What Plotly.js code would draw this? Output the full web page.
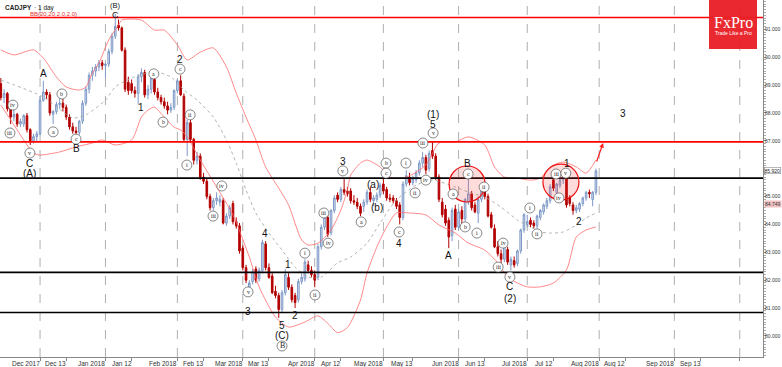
<!DOCTYPE html>
<html><head><meta charset="utf-8">
<script src="https://cdn.plot.ly/plotly-3.0.1.min.js"></script>
<style>html,body{margin:0;padding:0;background:#fff;}#chart{width:782px;height:367px;}</style>
</head><body><div id="chart"></div>
<script>
// ---- candle data (bar index 0 = 15 Nov 2017) ----
const opens = [
89.05,88.55,88.70,88.15,87.85,87.95,87.60,87.60,87.90,87.40,
87.00,87.15,87.25,88.45,88.75,88.65,87.95,88.05,88.30,88.35,
88.20,87.85,87.50,87.35,87.30,87.70,88.35,88.85,89.35,89.50,
89.65,89.80,89.70,89.75,90.20,90.75,91.15,91.05,90.25,89.10,
89.05,88.80,88.70,89.30,89.45,88.65,88.85,89.20,88.75,88.55,
88.40,88.25,88.10,88.20,88.80,89.15,88.60,87.05,87.65,87.05,
86.30,86.45,85.70,85.55,85.00,84.60,84.85,84.80,84.85,84.05,
84.30,84.75,84.10,83.95,83.15,82.45,81.75,81.95,82.40,82.05,
82.35,83.30,82.45,82.15,81.60,81.45,80.95,81.55,82.10,81.75,
81.45,81.30,81.95,82.05,82.55,82.35,82.20,82.10,83.20,83.90,
84.25,83.70,84.50,85.05,84.90,85.25,85.20,85.20,84.85,84.80,
84.65,84.65,84.80,85.15,84.85,84.90,85.05,85.45,85.25,84.95,
84.95,84.85,84.70,84.25,85.45,85.70,85.50,85.60,85.85,86.20,
86.40,86.00,86.65,86.45,85.70,84.80,84.55,84.15,83.60,84.55,
83.90,84.50,84.20,84.80,85.10,84.70,84.40,84.90,85.20,85.00,
84.35,83.85,83.20,82.95,82.75,83.10,82.55,82.70,82.60,83.05,
83.80,84.00,84.15,84.05,83.95,84.25,84.45,84.65,84.85,85.60,
85.15,85.40,85.60,85.70,84.95,84.70,84.50,84.55,84.75,84.95,
85.15,84.90,85.15];
const highs = [
89.25,88.85,88.75,88.30,88.10,88.00,87.80,87.95,88.00,87.45,
87.25,87.35,88.60,89.15,88.85,88.75,88.10,88.40,88.55,88.50,
88.30,87.95,87.65,87.50,87.75,88.45,88.95,89.45,89.65,89.75,
89.90,89.90,89.80,90.30,90.85,91.55,91.35,91.10,90.35,89.30,
89.20,88.95,89.40,89.60,89.55,89.00,89.35,89.40,88.90,88.65,
88.55,88.40,88.35,88.85,89.20,89.35,88.70,87.75,87.75,87.10,
86.60,86.55,85.85,85.65,85.10,84.95,85.15,85.05,84.95,84.40,
84.70,84.85,84.25,84.05,83.25,82.55,82.00,82.40,82.50,82.45,
83.45,83.40,82.60,82.25,81.80,81.55,81.65,82.40,82.25,81.85,
81.55,82.05,82.25,82.75,82.70,82.50,82.35,83.30,84.00,84.35,
84.35,84.55,85.05,85.15,85.35,85.65,85.35,85.30,85.05,84.95,
84.75,84.90,85.25,85.35,85.05,85.15,85.50,85.65,85.35,85.10,
85.05,84.95,84.80,85.55,85.95,85.85,85.75,85.95,86.30,86.60,
86.50,86.65,86.95,86.55,85.80,84.95,84.70,84.25,84.60,84.70,
84.55,84.65,84.95,85.70,85.20,84.80,85.00,85.30,85.45,85.10,
84.45,84.00,83.40,83.10,83.35,83.20,82.85,82.85,83.10,83.85,
84.40,84.35,84.25,84.15,84.35,84.55,84.75,84.95,85.45,85.70,
85.50,85.65,85.95,85.80,85.05,84.80,84.70,84.80,85.00,85.20,
85.25,85.20,86.00];
const lows = [
88.45,88.35,88.05,87.60,87.70,87.50,87.50,87.50,87.30,86.85,
86.90,86.95,87.20,88.40,88.50,87.90,87.60,87.95,88.15,88.05,
87.75,87.40,87.25,87.10,87.20,87.60,88.25,88.70,89.15,89.30,
89.50,89.55,89.25,89.65,90.10,90.65,90.95,90.20,88.75,88.65,
88.70,88.55,88.30,89.10,88.55,88.50,88.70,88.65,88.45,88.30,
88.15,87.95,88.00,88.10,88.70,88.60,86.95,86.45,86.95,86.15,
86.15,85.60,85.45,84.90,84.50,84.50,84.70,84.65,84.00,83.95,
84.20,84.00,83.85,82.95,82.35,81.90,81.55,81.85,81.90,81.95,
82.25,82.35,82.05,81.50,81.35,80.65,80.85,81.45,81.65,81.20,
81.00,81.20,81.85,81.95,82.25,82.10,81.75,82.00,83.10,83.80,
83.55,83.60,84.40,84.80,84.80,85.05,85.00,84.75,84.70,84.55,
84.30,84.45,84.70,84.80,84.65,84.80,84.95,85.10,84.85,84.80,
84.75,84.55,84.00,84.15,85.35,85.40,85.40,85.50,85.75,86.05,
85.80,85.90,86.35,85.60,84.80,84.25,83.95,83.15,83.40,83.80,
83.80,83.95,84.10,84.70,84.50,84.40,84.05,84.80,84.90,84.25,
83.85,83.15,82.85,82.60,82.65,82.55,82.35,82.45,82.50,82.95,
83.70,83.90,83.90,83.85,83.85,84.15,84.35,84.55,84.75,85.20,
85.05,85.30,85.45,84.60,84.65,84.35,84.40,84.45,84.65,84.85,
84.95,84.65,85.05];
const closes = [
88.55,88.70,88.15,87.85,87.95,87.60,87.70,87.90,87.40,87.00,
87.15,87.25,88.45,88.75,88.65,88.00,88.05,88.30,88.35,88.20,
87.85,87.50,87.35,87.30,87.70,88.35,88.85,89.35,89.50,89.65,
89.80,89.70,89.75,90.20,90.75,91.10,91.05,90.25,88.85,88.80,
88.80,88.70,89.30,89.45,88.65,88.85,89.25,88.75,88.55,88.40,
88.25,88.10,88.20,88.80,89.15,88.65,87.05,87.65,87.05,86.30,
86.45,85.70,85.55,85.00,84.60,84.85,84.95,84.90,84.05,84.30,
84.60,84.10,83.95,83.05,82.45,82.00,81.90,82.30,82.00,82.35,
83.35,82.45,82.10,81.55,81.45,80.95,81.55,82.20,81.75,81.30,
81.20,81.95,82.10,82.65,82.35,82.20,82.00,83.20,83.90,84.25,
83.65,84.50,84.95,84.90,85.25,85.15,85.10,84.85,84.80,84.65,
84.40,84.80,85.15,84.90,84.95,85.05,85.40,85.20,84.95,84.90,
84.85,84.65,84.25,85.45,85.75,85.50,85.65,85.85,86.20,86.40,
85.95,86.55,86.45,85.70,84.90,84.35,84.05,83.55,84.50,83.90,
84.45,84.20,84.90,85.10,84.60,84.45,84.90,85.20,85.00,84.30,
83.90,83.20,82.95,82.75,83.30,82.65,82.75,82.55,83.05,83.80,
84.35,84.10,84.00,83.95,84.30,84.50,84.70,84.85,85.35,85.30,
85.45,85.60,85.70,84.70,84.75,84.50,84.60,84.75,84.95,85.15,
85.10,85.15,85.92];

// ---- Bollinger band readings (bar index, price) ----
const upperIdx = [0,4,10,13,17,20,24,26,28,30,33,36,37,43,47,50,54,57,61,65,69,72,75,78,81,85,88,92,94,97,101,104,106,107,110,112,116,119,124,130,134,139,143,148,151,154,158,162,165,168,172,176,179,182];
const upperVal = [90.26,90.08,90.26,89.97,89.29,88.93,88.82,88.93,89.43,89.79,90.62,91.15,91.33,91.33,90.97,90.97,90.44,89.90,90.18,90.33,89.65,88.71,87.85,87.03,86.06,85.30,84.70,83.44,83.26,83.33,83.80,84.52,85.24,85.77,86.20,86.31,86.06,85.70,85.70,86.13,86.92,86.96,87.14,86.85,86.06,85.70,85.66,85.59,85.66,86.06,86.24,86.06,85.84,86.31];
const lowerIdx = [0,4,7,10,12,18,23,28,31,35,40,43,45,47,49,53,55,57,61,66,71,76,79,84,88,93,97,100,103,106,110,112,115,118,121,125,130,134,139,143,148,152,155,158,161,165,169,173,176,179,182];
const lowerVal = [88.28,87.57,87.03,86.56,86.49,86.60,86.78,86.92,87.03,86.85,87.03,87.85,88.10,88.21,87.98,87.49,87.39,87.14,86.31,85.34,84.34,82.83,81.76,80.68,80.32,80.50,80.72,80.45,80.12,80.30,81.29,82.26,83.19,83.91,84.41,84.41,84.34,83.98,83.69,83.33,83.08,82.62,82.11,81.90,81.76,81.76,81.90,82.37,83.55,83.80,83.91];
const midIdx = [0,13,22,26,32,35,40,47,52,56,60,65,69,72,75,78,82,86,90,94,98,103,107,112,116,121,127,132,139,143,148,153,158,162,165,168,172,176,179,182];
const midVal = [89.18,88.57,87.82,87.93,88.46,88.93,89.25,89.47,89.29,88.82,88.46,87.85,87.03,86.20,85.24,84.41,83.69,83.08,82.47,82.11,82.11,82.62,82.83,83.33,84.05,84.88,85.41,85.59,85.34,85.16,84.98,84.62,84.16,83.91,83.73,83.69,83.73,83.98,84.23,84.41];

// ---- horizontal levels ----
const redLevels = [91.42, 86.96];
const blackLevels = [85.66, 82.28, 80.84];

// ---- axes ----
const monthIdx = [12,32,54,74,96,117,140,161,183,206,226];
const tickIdx = [12,20,32,40,54,62,74,82,96,104,117,126,140,148,161,169,183,191,206,214,226];
const tickText = ["Dec 2017","Dec 13","Jan 2018","Jan 12","Feb 2018","Feb 13","Mar 2018","Mar 13","Apr 2018","Apr 12","May 2018","May 13","Jun 2018","Jun 13","Jul 2018","Jul 12","Aug 2018","Aug 12","Sep 2018","Sep 13",""];
const yTicks = [80,81,82,83,84,85,87,88,89,90,91];
const yTickText = ["80.000","81.000","82.000","83.000","84.000","85.000","87.000","88.000","89.000","90.000","91.000"];

// ---- wave labels ----
const plainLbl = [["C",35.2,91.53],["A",12.9,89.40],["B",23.0,86.71],["C",8.9,86.20],["(A)",8.9,85.81],["1",42.9,88.18],["2",54.8,89.93],["3",75.6,80.86],["4",80.8,83.69],["5",86.0,80.36],["(C)",86.0,80.00],["1",87.8,82.58],["2",90.0,80.72],["3",104.6,86.27],["(a)",113.8,85.45],["(b)",115.0,84.59],["4",121.8,83.33],["5",132.2,87.60],["(1)",132.2,87.96],["A",136.8,82.87],["B",142.6,86.17],["C",155.7,81.76],["(2)",155.7,81.36],["1",173.1,86.20],["2",176.8,84.09],["3",190.3,87.99]];
const topLbl = ["(B)", 35.2, 92.05];
const circLbl = [["iv",3.7,88.28],["iii",2.8,87.28],["v",8.9,86.56],["b",18.7,88.68],["a",16.0,87.32],["c",23.0,87.06],["a",46.8,89.40],["b",49.6,87.67],["c",54.8,89.57],["i",56.9,86.13],["ii",57.9,87.93],["iii",64.9,84.30],["iv",67.6,85.38],["v",75.6,81.58],["B",86.0,79.64],["i",93.0,82.97],["ii",96.1,81.47],["iii",98.8,84.41],["iv",100.1,83.33],["v",104.6,85.92],["a",110.2,84.09],["b",117.8,86.20],["c",117.8,85.84],["c",121.8,83.73],["i",123.9,86.20],["ii",126.7,85.13],["iii",129.1,86.92],["iv",130.0,85.59],["v",132.2,87.28],["c",142.9,85.81],["a",138.3,85.09],["b",142.0,83.91],["i",145.6,83.69],["ii",147.8,85.34],["iii",152.1,82.47],["iv",153.6,83.33],["v",155.7,82.11],["i",161.8,84.59],["ii",164.0,83.66],["iii",169.8,85.81],["iv",170.7,84.95],["v",172.8,85.84]];
const bigCircles = [[142.6,85.45],[171.3,85.52]];

const xIdx = opens.map((_, i) => i);
const X0 = -0.25, X1 = 233.1, Y0 = 79.245, Y1 = 92.05;

const traces = [
  {type:'scatter', mode:'lines', x:upperIdx, y:upperVal, line:{color:'#ff6b6b', width:0.8, shape:'spline', smoothing:0.7}, hoverinfo:'skip'},
  {type:'scatter', mode:'lines', x:lowerIdx, y:lowerVal, line:{color:'#ff6b6b', width:0.8, shape:'spline', smoothing:0.7}, hoverinfo:'skip'},
  {type:'scatter', mode:'lines', x:midIdx, y:midVal, line:{color:'#9aa39a', width:0.8, dash:'dot', shape:'spline', smoothing:0.7}, hoverinfo:'skip'},
  {type:'candlestick', x:xIdx, open:opens, high:highs, low:lows, close:closes,
   increasing:{line:{color:'#7d98c6', width:1}, fillcolor:'#dbe4f2'},
   decreasing:{line:{color:'#b30000', width:1}, fillcolor:'#b30000'},
   whiskerwidth:0, hoverinfo:'skip'}
];

const shapes = [];
monthIdx.forEach(m => shapes.push({type:'line', xref:'x', yref:'paper', x0:m, x1:m, y0:0, y1:1, line:{color:'#9a9a9a', width:0.8, dash:'dash'}, layer:'below'}));
redLevels.forEach(v => shapes.push({type:'line', xref:'paper', yref:'y', x0:0, x1:1, y0:v, y1:v, line:{color:'#ff0000', width:1.6}}));
blackLevels.forEach(v => shapes.push({type:'line', xref:'paper', yref:'y', x0:0, x1:1, y0:v, y1:v, line:{color:'#000000', width:1.6}}));
bigCircles.forEach(c => shapes.push({type:'circle', xref:'x', yref:'y', xsizemode:'pixel', ysizemode:'pixel', xanchor:c[0], yanchor:c[1], x0:-18, x1:18, y0:-18, y1:18, line:{color:'#ee1111', width:1.2}, fillcolor:'rgba(255,60,60,0.18)', layer:'above'}));
circLbl.forEach(c => shapes.push({type:'circle', xref:'x', yref:'y', xsizemode:'pixel', ysizemode:'pixel', xanchor:c[1], yanchor:c[2], x0:-5, x1:5, y0:-5, y1:5, line:{color:'#555', width:0.7}, fillcolor:'#ffffff', layer:'above'}));
shapes.push({type:'rect', xref:'paper', yref:'paper', x0:709/763, x1:757/763, y0:1-49/357, y1:1, line:{width:0}, fillcolor:'rgba(232,30,36,0.95)', layer:'above'});

const ann = [];
ann.push({x:topLbl[1], y:topLbl[2], xref:'x', yref:'y', text:topLbl[0], showarrow:false, yanchor:'top', yshift:0, borderpad:0, font:{family:'Liberation Sans, Arial', size:7.5, color:'#111'}});
plainLbl.forEach((l, k) => ann.push({x:l[1], y:l[2], xref:'x', yref:'y', text:l[0], showarrow:false, borderpad:0, font:{family:'Liberation Sans, Arial', size:k===0?9:10, color:'#111'}}));
circLbl.forEach(c => ann.push({x:c[1], y:c[2], xref:'x', yref:'y', text:c[0], showarrow:false, font:{family:'Liberation Serif, serif', size:c[0]==='B'?8:6, color:'#222'}}));
tickIdx.forEach((t, k) => { if (tickText[k]) ann.push({x:t, y:0, xref:'x', yref:'paper', text:tickText[k], showarrow:false, xanchor:'right', yanchor:'top', xshift:2, yshift:-1, font:{family:'Liberation Sans, Arial', size:6.5, color:'#333'}}); });
ann.push({xref:'paper', yref:'paper', x:3/763, y:1-2/357, xanchor:'left', yanchor:'top', text:'<b>CADJPY</b>', showarrow:false, font:{family:'Liberation Sans, Arial', size:6.5, color:'#222'}});
ann.push({xref:'paper', yref:'paper', x:32/763, y:1-2/357, xanchor:'left', yanchor:'top', text:'· 1 day', showarrow:false, font:{family:'Liberation Sans, Arial', size:6.5, color:'#222'}});
ann.push({xref:'paper', yref:'paper', x:28/763, y:1-9/357, xanchor:'left', yanchor:'top', text:'BB(20,20,2.0,2.0)', showarrow:false, font:{family:'Liberation Sans, Arial', size:6, color:'#e03030'}});
ann.push({xref:'paper', yref:'paper', x:733/763, y:1-22/357, xanchor:'center', yanchor:'middle', text:'FxPro', showarrow:false, font:{family:'Liberation Serif, DejaVu Serif, serif', size:16, color:'#ffffff'}});
ann.push({xref:'paper', yref:'paper', x:733/763, y:1-33/357, xanchor:'center', yanchor:'middle', text:'Trade Like a Pro', showarrow:false, font:{family:'Liberation Sans, Arial', size:5, color:'#ffffff'}});
ann.push({xref:'paper', yref:'y', x:1, y:85.92, xanchor:'left', yanchor:'middle', xshift:1, text:'85.920', showarrow:false, bgcolor:'#ffffff', bordercolor:'#777', borderwidth:0.5, borderpad:0, font:{family:'Liberation Sans, Arial', size:5, color:'#222'}});
ann.push({xref:'paper', yref:'y', x:1, y:84.749, xanchor:'left', yanchor:'middle', xshift:1, text:'84.749', showarrow:false, bgcolor:'#f2c4c4', borderpad:0, font:{family:'Liberation Sans, Arial', size:5, color:'#333'}});
ann.push({x:184.2, y:86.92, xref:'x', yref:'y', ax:-7, ay:20, axref:'pixel', ayref:'pixel', showarrow:true, arrowhead:2, arrowsize:0.8, arrowwidth:1.2, arrowcolor:'#ff2020', text:''});

const layout = {
  width:782, height:367,
  margin:{l:0, r:19, t:0, b:10, pad:0},
  paper_bgcolor:'#ffffff', plot_bgcolor:'#ffffff',
  showlegend:false,
  xaxis:{range:[X0, X1], type:'linear', showgrid:false, zeroline:false, rangeslider:{visible:false},
         tickvals:tickIdx, ticks:'outside', ticklen:3, tickcolor:'#888', showticklabels:false,
         showline:true, linecolor:'#888', linewidth:1, fixedrange:true},
  yaxis:{range:[Y0, Y1], side:'right', showgrid:false, zeroline:false,
         tickvals:yTicks, ticktext:yTickText, ticks:'outside', ticklen:2, tickcolor:'#888',
         ticklabelstandoff:-2,
         minor:{dtick:0.1, ticks:'outside', ticklen:1.5, tickcolor:'#aaa', showgrid:false},
         tickfont:{family:'Liberation Sans, Arial', size:5, color:'#333'},
         showline:true, linecolor:'#888', linewidth:1, fixedrange:true},
  shapes:shapes, annotations:ann
};
Plotly.newPlot('chart', traces, layout, {staticPlot:true, displayModeBar:false});
</script></body></html>
